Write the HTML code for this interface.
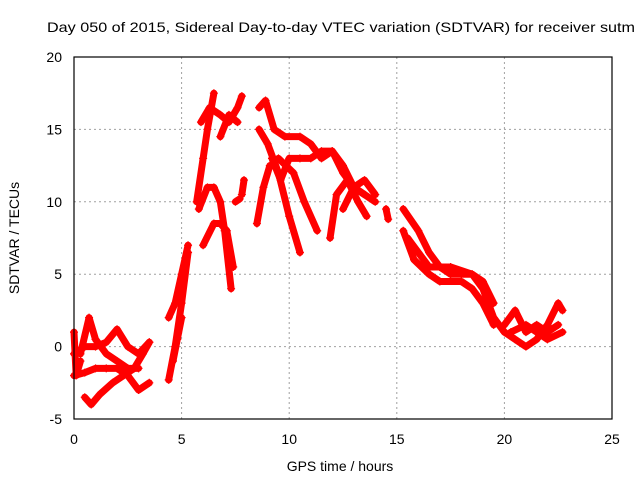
<!DOCTYPE html>
<html><head><meta charset="utf-8"><style>
body{margin:0;background:#fff}
svg{display:block;font-family:"Liberation Sans",sans-serif}
</style></head><body>
<svg id="c" width="640" height="480">
<rect width="640" height="480" fill="#fff"/>
<text x="47" y="32" font-size="14" textLength="588" lengthAdjust="spacingAndGlyphs">Day 050 of 2015, Sidereal Day-to-day VTEC variation (SDTVAR) for receiver sutm</text>
<g id="grid"></g><g id="data"></g><g id="axes"></g>
<text x="340" y="471" font-size="14" text-anchor="middle">GPS time / hours</text>
<text transform="translate(19,238) rotate(-90)" font-size="14" text-anchor="middle">SDTVAR / TECUs</text>
</svg>
<script>
const xTicks=[0,5,10,15,20,25];
const yTicks=[-5,0,5,10,15,20];
const s1=[[0,-0.5],[0.5,0],[1,0],[1.5,0.3],[2,1.2],[2.5,0],[3,-0.5],[3.5,0.3]];
const s2=[[0,-2],[0.5,-1.8],[1,-1.5],[1.5,-1.5],[2,-1.5],[2.5,-2],[3,-3],[3.5,-2.5]];
const s3=[[0.3,-0.5],[0.7,2],[1,0.5],[1.5,-0.5],[2,-1],[2.5,-1.5],[3,-1.5]];
const s4=[[0.5,-3.5],[0.8,-4],[1.2,-3.3],[1.8,-2.5],[2.3,-2],[2.8,-1.5],[3.2,-0.5],[3.5,0.3]];
const s5=[[0,1],[0.1,-2],[0.3,-1]];
const s6=[[4.4,-2.3],[4.7,0],[5,3],[5.3,6.5]];
const s7=[[4.4,2],[4.7,3],[5,5],[5.3,7]];
const s8=[[4.6,-1],[4.8,0.5],[5,2]];
const s9=[[5.7,10],[6,13],[6.2,15],[6.5,17.5]];
const s10=[[5.9,15.5],[6.3,16.5],[6.8,16],[7.2,15.5],[7.6,16.5],[7.8,17.3]];
const s11=[[5.8,9.5],[6.2,11],[6.5,11],[6.8,10],[7,8],[7.3,4]];
const s12=[[6,7],[6.5,8.5],[6.8,8.5],[7.1,8],[7.4,5.5]];
const s13=[[6.8,14.5],[7.2,16],[7.6,15.5]];
const s14=[[7.5,10],[7.7,10.2]];
const s15=[[7.8,10.5],[7.9,11.5]];
const s16=[[8.6,16.5],[8.9,17],[9.3,15],[9.8,14.5],[10.5,14.5],[11,14],[11.5,13],[12,13.5],[12.5,12],[13,11],[13.5,10.5],[14,10]];
const s17=[[8.6,15],[9,14],[9.5,12],[10,9],[10.5,6.5]];
const s18=[[9.2,13],[9.6,11.5],[10,13],[10.5,13],[11,13],[11.5,13.5],[12,13.5],[12.5,12.5],[13,11],[13.5,10.5]];
const s19=[[9.5,13],[10.2,12],[10.7,10],[11.3,8]];
const s20=[[8.5,8.5],[8.8,11],[9.1,12.5]];
const s21=[[11.9,7.5],[12.2,10.5],[12.7,11.5],[13.2,10],[13.6,9]];
const s22=[[12.5,9.5],[13,11],[13.5,11.5],[14,10.5]];
const s23=[[14.5,9.5],[14.6,8.8]];
const s24=[[15.3,9.5],[16,8],[16.5,6.5],[17,5.5],[17.5,5],[18,5],[18.5,5],[19,4],[19.5,2],[20,1]];
const s25=[[15.3,8],[15.8,6],[16.5,5],[17,4.5],[18,4.5],[18.5,4],[19,3],[19.5,1.5]];
const s26=[[15.5,7.5],[16,6.5],[16.5,5.5],[17.5,5.5],[18.5,5],[19,4.5],[19.5,3]];
const s27=[[20,1.5],[20.5,2.5],[21,1],[21.5,1.5],[22,1],[22.5,1.5]];
const s28=[[20,1],[20.5,0.5],[21,0],[21.5,0.5],[22,1.5],[22.5,3],[22.7,2.5]];
const s29=[[20.3,1],[21,1.5],[21.5,1],[22,0.5],[22.7,1]];
const series=[s1,s2,s3,s4,s5,s6,s7,s8,s9,s10,s11,s12,s13,s14,s15,s16,s17,s18,s19,s20,s21,s22,s23,s24,s25,s26,s27,s28,s29];
const X0=74,X1=612,Y0=419,Y1=57;
const xs=v=>X0+(v-0)/25*(X1-X0);
const ys=v=>Y0-(v+5)/25*(Y0-Y1);
const NS="http://www.w3.org/2000/svg";
function mk(t,a,p){const e=document.createElementNS(NS,t);for(const k in a)e.setAttribute(k,a[k]);p.appendChild(e);return e;}
const grid=document.getElementById('grid'),axes=document.getElementById('axes'),data=document.getElementById('data');
xTicks.forEach(t=>{
 if(t>0&&t<25){const l=mk('line',{x1:xs(t),x2:xs(t),y1:Y1,y2:Y0,stroke:'#a0a0a0','stroke-dasharray':'2,3'},grid);
 
 }
 const tx=mk('text',{x:xs(t),y:Y0+25,'font-size':14,'text-anchor':'middle'},axes);tx.textContent=t;
 
 
});
yTicks.forEach(t=>{
 if(t>-5&&t<20){const l=mk('line',{x1:X0,x2:X1,y1:ys(t),y2:ys(t),stroke:'#a0a0a0','stroke-dasharray':'2,3'},grid);
 
 }
 const tx=mk('text',{x:X0-12,y:ys(t)+5,'font-size':14,'text-anchor':'end'},axes);tx.textContent=t;
 
 
});
const b=mk('rect',{x:X0,y:Y1,width:X1-X0,height:Y0-Y1,fill:'none',stroke:'#000','stroke-width':1.2},axes);


series.forEach(s=>{
 const p=mk('polyline',{points:s.map(d=>xs(d[0])+','+ys(d[1])).join(' '),fill:'none',stroke:'#f00','stroke-width':7,'stroke-linejoin':'round','stroke-linecap':'round'},data);
 
 
 s.forEach(d=>{const x=xs(d[0]),y=ys(d[1]);
  const m=mk('path',{d:`M${x-4},${y}H${x+4}M${x},${y-4}V${y+4}`,stroke:'#f00','stroke-width':1.2},data);
  
  });
});
</script>
</body></html>
